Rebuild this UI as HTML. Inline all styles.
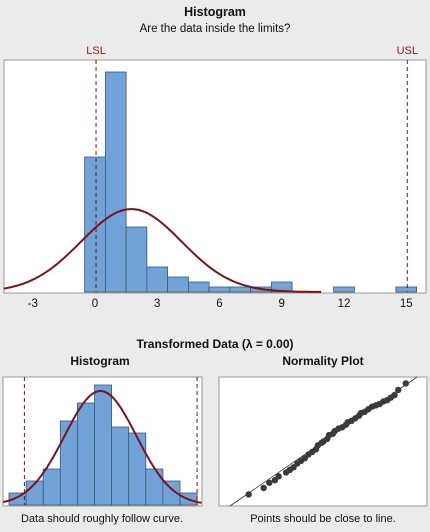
<!DOCTYPE html>
<html><head><meta charset="utf-8"><style>
body{margin:0;background:#ebebeb;font-family:"Liberation Sans",sans-serif;}
svg{display:block}
</style></head><body>
<svg width="430" height="532" viewBox="0 0 430 532">
<rect width="430" height="532" fill="#ebebeb"/>
<text x="215" y="16" text-anchor="middle" font-size="12.5" font-weight="bold" fill="#111">Histogram</text>
<text x="215" y="32" text-anchor="middle" font-size="11.5" fill="#111">Are the data inside the limits?</text>
<rect x="4" y="60" width="422" height="233" fill="#fff" stroke="#999"/>
<g id="main"></g>
<text x="215" y="348" text-anchor="middle" font-size="12" font-weight="bold" fill="#111">Transformed Data (λ = 0.00)</text>
<text x="100" y="365" text-anchor="middle" font-size="12" font-weight="bold" fill="#111">Histogram</text>
<text x="323" y="365" text-anchor="middle" font-size="12" font-weight="bold" fill="#111">Normality Plot</text>
<rect x="3" y="377" width="199" height="129" fill="#fff" stroke="#999"/>
<rect x="219" y="377" width="208" height="129" fill="#fff" stroke="#999"/>
<g id="small"></g>
<g id="norm"></g>
<text x="102" y="522" text-anchor="middle" font-size="11" fill="#111">Data should roughly follow curve.</text>
<text x="323" y="522" text-anchor="middle" font-size="11" fill="#111">Points should be close to line.</text>
</svg>
<script>
const mainBins=[0,1,2,3,4,5,6,7,8,9,12,15];
const mainCounts=[27,44,13,5,3,2,1,1,1,2,1,1];
const mainTicks=[-3,0,3,6,9,12,15];
const specLimits=[0.05,15.05];
const specLabels=["LSL","USL"];
const fitMean=1.75, fitSd=2.43, sampleN=101;
const smallCounts=[2,4,6,14,17,20,13,12,6,4,2];
const smallLimits=[0.9,11.0];
const smallMean=5.35, smallSd=2.1, smallN=100;
const normX=[0.1,0.18,0.21,0.24,0.26,0.3,0.32,0.34,0.36,0.38,0.4,0.42,0.44,0.46,0.47,0.49,0.5,0.52,0.53,0.55,0.56,0.58,0.6,0.62,0.63,0.65,0.67,0.69,0.7,0.72,0.74,0.76,0.78,0.8,0.82,0.84,0.86,0.88,0.9,0.94];
const normY=[0.09,0.14,0.18,0.2,0.23,0.26,0.28,0.3,0.33,0.35,0.37,0.4,0.42,0.44,0.47,0.49,0.5,0.52,0.55,0.56,0.58,0.6,0.61,0.63,0.65,0.66,0.68,0.7,0.72,0.73,0.75,0.77,0.78,0.79,0.81,0.82,0.84,0.86,0.9,0.95];
const NS="http://www.w3.org/2000/svg";
function mk(p,t,a){const e=document.createElementNS(NS,t);for(const k in a)e.setAttribute(k,a[k]);p.appendChild(e);return e;}
const g=document.getElementById('main');
const mx=v=>95+v*20.75, my=c=>292-c*5;
mainBins.forEach((b,i)=>{const r=mk(g,'rect',{x:mx(b-0.5),y:my(mainCounts[i]),width:20.75,height:mainCounts[i]*5,fill:'#72a3d8',stroke:'#3b5873','stroke-width':0.8});

});
let d='';for(let v=-4.4;v<=10.9;v+=0.1){const y=sampleN*Math.exp(-0.5*((v-fitMean)/fitSd)**2)/(fitSd*Math.sqrt(2*Math.PI));d+=(d?'L':'M')+mx(v).toFixed(1)+','+my(y).toFixed(1);}
const c=mk(g,'path',{d:d,fill:'none',stroke:'#7a1418','stroke-width':2});


specLimits.forEach((l,i)=>{const ln=mk(g,'line',{x1:mx(l),x2:mx(l),y1:60,y2:292,stroke:'#7a1418','stroke-dasharray':'4,3'});


const t=mk(g,'text',{x:mx(l),y:54,'text-anchor':'middle','font-size':11,fill:'#8b1a1a'});t.textContent=specLabels[i];

});
mainTicks.forEach(v=>{const t=mk(g,'text',{x:mx(v),y:307,'text-anchor':'middle','font-size':11.5,fill:'#111'});t.textContent=v;

});
const s=document.getElementById('small');
const sx=v=>9+v*17.1, sy=c=>505-c*6;
smallCounts.forEach((n,i)=>{const r=mk(s,'rect',{x:sx(i),y:sy(n),width:17.1,height:n*6,fill:'#72a3d8',stroke:'#3b5873','stroke-width':0.8});

});
d='';for(let v=-0.35;v<=11.3;v+=0.05){const y=smallN*Math.exp(-0.5*((v-smallMean)/smallSd)**2)/(smallSd*Math.sqrt(2*Math.PI));d+=(d?'L':'M')+sx(v).toFixed(1)+','+sy(y).toFixed(1);}
const c2=mk(s,'path',{d:d,fill:'none',stroke:'#7a1418','stroke-width':2});


smallLimits.forEach(l=>{const ln=mk(s,'line',{x1:sx(l),x2:sx(l),y1:377,y2:505,stroke:'#7a1418','stroke-dasharray':'4,3'});

});
const n=document.getElementById('norm');
const nx=v=>230+v*187, ny=v=>506-v*129;
const rl=mk(n,'line',{x1:nx(0),y1:ny(0),x2:nx(1),y2:ny(1),stroke:'#333','stroke-width':0.8});


normX.forEach((v,i)=>{const p=mk(n,'circle',{cx:nx(v),cy:ny(normY[i]),r:3.2,fill:'#3a3a3a'});

});
</script>
</body></html>
